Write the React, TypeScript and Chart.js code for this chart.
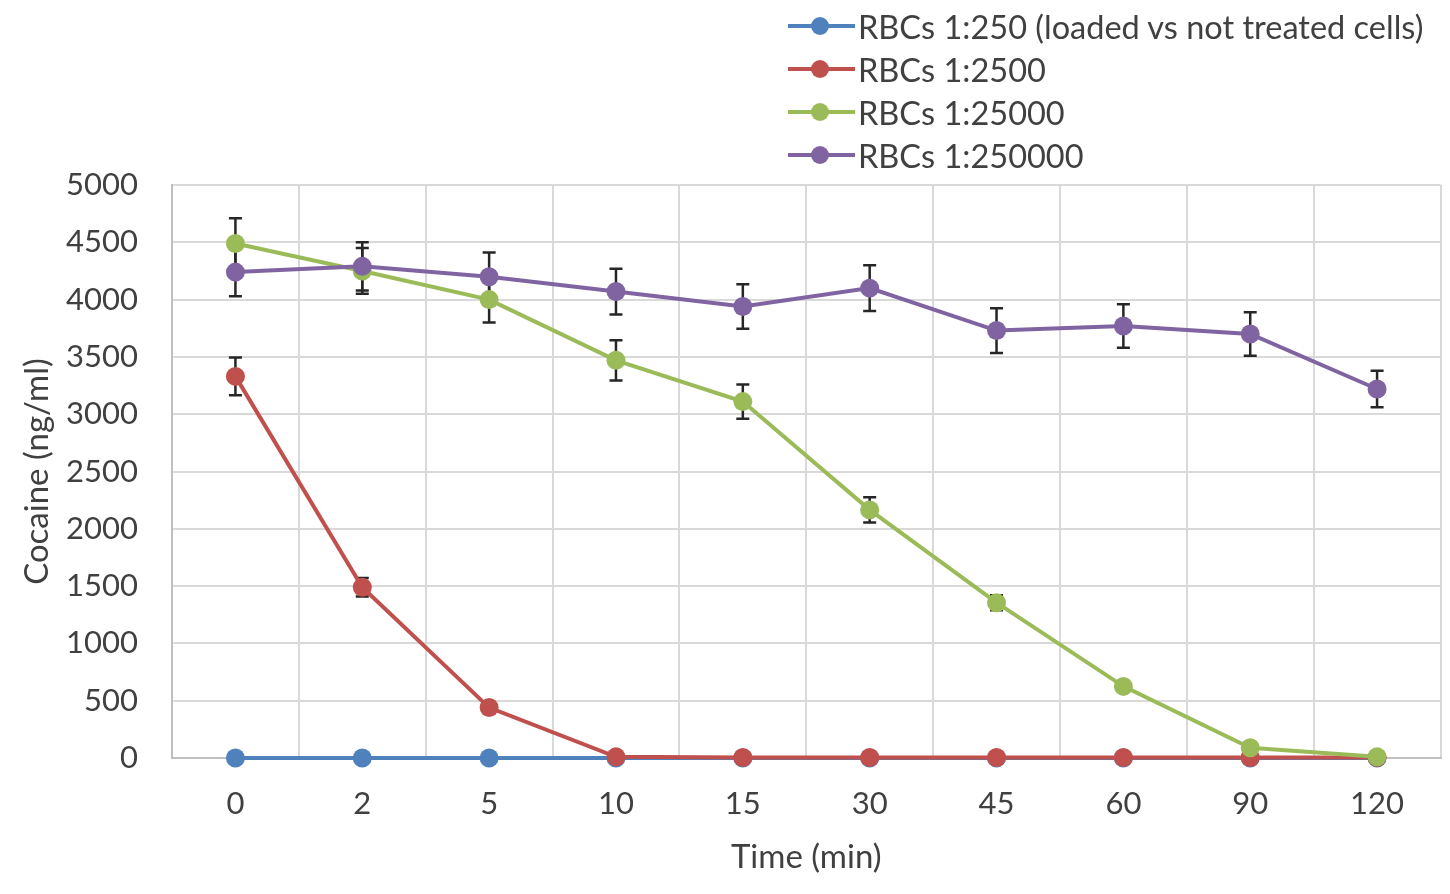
import { useEffect, useRef } from "react";
import { Chart, registerables } from "chart.js";

Chart.register(...registerables);

const timeLabels = ["0", "2", "5", "10", "15", "30", "45", "60", "90", "120"];
const seriesNames = [
  "RBCs 1:250 (loaded vs not treated cells)",
  "RBCs 1:2500",
  "RBCs 1:25000",
  "RBCs 1:250000",
];
const seriesColors = ["#4F81BD", "#C0504D", "#9BBB59", "#8064A2"];

const rbc250 = [0, 0, 0, 0, 0, 0, 0, 0, 0, 0];
const rbc2500 = [3330, 1490, 440, 10, 5, 5, 5, 5, 5, 5];
const rbc25000 = [4490, 4250, 4000, 3470, 3110, 2165, 1355, 625, 90, 10];
const rbc250000 = [4240, 4290, 4200, 4070, 3940, 4100, 3730, 3770, 3700, 3220];

const err250 = [null, null, null, null, null, null, null, null, null, null];
const err2500 = [165, 80, null, null, null, null, null, null, null, null];
const err25000 = [220, 200, 200, 175, 150, 110, 65, null, null, null];
const err250000 = [210, 210, 210, 200, 195, 200, 195, 190, 190, 160];

const yMin = 0;
const yMax = 5000;
const yStep = 500;

const FONT = "Lato, 'Open Sans', sans-serif";
const TEXT = "#404040";

const errorSets = [err250, err2500, err25000, err250000];

const errorBars = {
  id: "errorBars",
  beforeDatasetsDraw(chart: Chart) {
    const { ctx } = chart;
    const y = chart.scales.y;
    ctx.save();
    ctx.strokeStyle = "#262626";
    ctx.lineWidth = 2.5;
    chart.data.datasets.forEach((ds, i) => {
      const errs = errorSets[i];
      const meta = chart.getDatasetMeta(i);
      meta.data.forEach((pt: any, j: number) => {
        const e = errs[j];
        if (e == null) return;
        const v = ds.data[j] as number;
        const top = y.getPixelForValue(v + e);
        const bot = y.getPixelForValue(Math.max(v - e, 0));
        ctx.beginPath();
        ctx.moveTo(pt.x, top);
        ctx.lineTo(pt.x, bot);
        ctx.moveTo(pt.x - 6.5, top);
        ctx.lineTo(pt.x + 6.5, top);
        ctx.moveTo(pt.x - 6.5, bot);
        ctx.lineTo(pt.x + 6.5, bot);
        ctx.stroke();
      });
    });
    ctx.restore();
  },
};

const legendRows = [26, 69, 112, 155];

export default function App() {
  const canvasRef = useRef<HTMLCanvasElement | null>(null);

  useEffect(() => {
    document.body.style.margin = "0";
    if (!canvasRef.current) return;
    const ctx = canvasRef.current.getContext("2d");
    if (!ctx) return;

    const values = [rbc250, rbc2500, rbc25000, rbc250000];

    const chart = new Chart(ctx, {
      type: "line",
      data: {
        labels: timeLabels,
        datasets: values.map((d, i) => ({
          label: seriesNames[i],
          data: d,
          borderColor: seriesColors[i],
          backgroundColor: seriesColors[i],
          pointBackgroundColor: seriesColors[i],
          pointBorderColor: seriesColors[i],
          borderWidth: 4,
          pointRadius: 9.5,
          pointBorderWidth: 0,
          tension: 0,
          clip: false as const,
          order: 4 - i,
        })),
      },
      options: {
        responsive: false,
        animation: false,
        layout: { padding: { top: 185, right: 8, left: 0, bottom: 0 } },
        plugins: {
          legend: { display: false },
          tooltip: { enabled: false },
        },
        scales: {
          x: {
            offset: true,
            grid: { offset: true, color: "#d9d9d9", lineWidth: 2, drawTicks: false },
            border: { color: "#bfbfbf", width: 2 },
            ticks: { color: TEXT, font: { family: FONT, size: 31 }, padding: 27 },
            title: {
              display: true,
              text: "Time (min)",
              color: TEXT,
              font: { family: FONT, size: 33 },
              padding: { top: 0, bottom: 17 },
            },
            afterFit: (scale: any) => {
              scale.height = 136;
            },
          },
          y: {
            min: yMin,
            max: yMax,
            grid: { color: "#d9d9d9", lineWidth: 2, drawTicks: false },
            border: { color: "#bfbfbf", width: 2 },
            ticks: {
              stepSize: yStep,
              color: TEXT,
              font: { family: FONT, size: 31 },
              padding: 34,
              callback: (v: any) => String(v),
            },
            title: {
              display: true,
              text: "Cocaine (ng/ml)",
              color: TEXT,
              font: { family: FONT, size: 33 },
              padding: { top: 18, bottom: 0 },
            },
            afterFit: (scale: any) => {
              scale.width = 172;
            },
          },
        },
      },
      plugins: [errorBars],
    });

    return () => chart.destroy();
  }, []);

  return (
    <div style={{ position: "relative", width: 1450, height: 894, background: "#fff" }}>
      <canvas ref={canvasRef} width={1450} height={894} />
      {seriesNames.map((name, i) => (
        <div
          key={name}
          style={{
            position: "absolute",
            left: 788,
            top: legendRows[i] - 20,
            height: 40,
            display: "flex",
            alignItems: "center",
            fontFamily: FONT,
            fontSize: 32.5,
            color: TEXT,
            whiteSpace: "nowrap",
          }}
        >
          <span style={{ position: "relative", width: 67, height: 40, marginRight: 3 }}>
            <span
              style={{
                position: "absolute",
                left: 0,
                top: 18,
                width: 67,
                height: 4,
                background: seriesColors[i],
              }}
            />
            <span
              style={{
                position: "absolute",
                left: 23,
                top: 11,
                width: 18,
                height: 18,
                borderRadius: "50%",
                background: seriesColors[i],
              }}
            />
          </span>
          <span>{name}</span>
        </div>
      ))}
    </div>
  );
}
